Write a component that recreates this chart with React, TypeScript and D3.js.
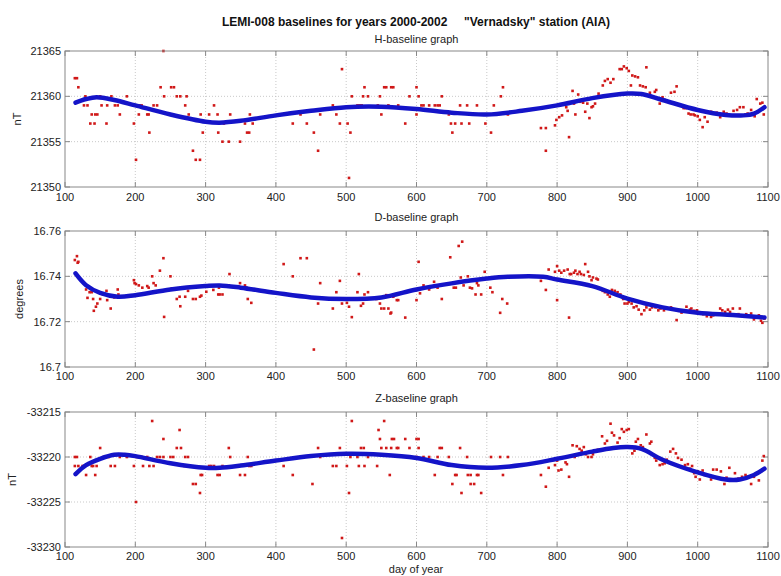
import React from "react";
import * as d3 from "d3";

// ---------- DATA ----------
const xTicks = [100, 200, 300, 400, 500, 600, 700, 800, 900, 1000, 1100];

const hTicks = [21350, 21355, 21360, 21365];
const dTicks = [16.7, 16.72, 16.74, 16.76];
const zTicks = [-33230, -33225, -33220, -33215];

const hPoints: [number, number][] = [
  [114,21362],[117,21362],[119,21361],[129,21360],[127,21359],[132,21359],[138,21358],[143,21358],[146,21358],[136,21357],[142,21357],
  [150,21360],[152,21359],[159,21357],[160,21359],[166,21360],[171,21359],[175,21359],[178,21358],[188,21360],[198,21357],[201,21353],
  [202,21359],[205,21358],[206,21359],[209,21359],[217,21358],[219,21358],[220,21356],[226,21359],[231,21359],[236,21361],[240,21365],
  [241,21360],[251,21361],[255,21361],[259,21360],[264,21360],[273,21360],[271,21359],[276,21358],[282,21354],[286,21353],[292,21353],
  [293,21358],[296,21356],[305,21358],[312,21359],[317,21358],[318,21356],[324,21355],[326,21357],[333,21355],[335,21358],[349,21355],
  [356,21357],[359,21356],[362,21356],[363,21358],[367,21357],[424,21357],[435,21358],[444,21357],[454,21356],[460,21354],[463,21358],
  [481,21359],[486,21358],[491,21357],[494,21363],[502,21357],[504,21351],[506,21356],[508,21360],[516,21359],[519,21359],[522,21359],
  [524,21360],[526,21361],[531,21360],[545,21359],[548,21360],[550,21358],[554,21361],[557,21361],[560,21359],[564,21361],[567,21361],
  [574,21359],[584,21357],[590,21360],[600,21361],[600,21358],[603,21360],[607,21359],[610,21359],[618,21359],[626,21359],[630,21359],
  [633,21359],[636,21360],[646,21358],[649,21357],[651,21356],[655,21357],[662,21359],[664,21357],[672,21359],[675,21357],[677,21358],
  [682,21358],[686,21359],[689,21358],[693,21358],[698,21357],[706,21356],[710,21359],[720,21360],[723,21361],[730,21358],
  [777,21356.5],[784,21356.5],[784,21354],[797,21356.8],[799,21357.4],[803,21357.7],[807,21357.9],[813,21358.8],[815,21358.4],
  [817,21355.5],[822,21360.6],[824,21359.2],[826,21358.0],[830,21360.2],[833,21359.4],[837,21359.3],[840,21358.3],[843,21359.2],
  [846,21357.6],[849,21358.8],[851,21358.9],[854,21359.2],[859,21360.3],[865,21361.2],[868,21361.7],[872,21361.9],[876,21361.5],
  [880,21361.9],[889,21363.0],[892,21363.0],[895,21363.3],[899,21363.1],[902,21362.8],[905,21361.2],[907,21362.3],[911,21362.2],
  [915,21362.1],[918,21361.2],[922,21361.1],[926,21361.0],[927,21363.2],[932,21360.4],[934,21360.0],[939,21360.5],[941,21360.7],
  [946,21359.2],[950,21359.9],[953,21359.6],[956,21359.4],[962,21360.4],[967,21360.5],[970,21361.1],[980,21358.7],[983,21358.7],
  [987,21358.1],[990,21358.0],[994,21358.0],[996,21357.9],[1000,21357.8],[1003,21357.4],[1007,21356.6],[1010,21357.7],[1014,21357.2],
  [1019,21358.3],[1022,21358.2],[1027,21358.2],[1032,21357.7],[1037,21358.3],[1041,21358.1],[1046,21357.9],[1051,21358.4],
  [1056,21358.5],[1060,21358.8],[1065,21358.8],[1068,21358.0],[1071,21358.1],[1076,21358.5],[1081,21357.8],[1084,21359.7],
  [1089,21359.2],[1092,21359.3],[1094,21358.0],[1095,21358.8],
];

const hFit: [number, number][] = [
  [115,21359.3],[130,21359.7],[145,21359.9],[170,21359.6],[200,21359.0],[250,21358.0],[300,21357.2],[320,21357.1],[350,21357.3],
  [400,21357.9],[450,21358.4],[500,21358.8],[550,21358.85],[600,21358.6],[650,21358.2],[700,21358.0],[750,21358.4],[800,21359.0],
  [850,21359.8],[900,21360.3],[920,21360.25],[950,21359.6],[1000,21358.5],[1040,21357.95],[1065,21357.9],[1080,21358.1],[1095,21358.8],
];

const dPoints: [number, number][] = [
  [114,16.7472],[117,16.7489],[118,16.746],[119,16.7464],[130,16.7342],[132,16.7305],[135,16.733],[138,16.733],[140,16.730],
  [141,16.7248],[144,16.7266],[146,16.728],[150,16.730],[154,16.732],[157,16.732],[159,16.7336],[160,16.7295],[165,16.7258],
  [170,16.7307],[175,16.7342],[176,16.732],[179,16.731],[190,16.731],[198,16.7383],[199,16.737],[201,16.7366],[205,16.736],
  [210,16.735],[217,16.7357],[219,16.735],[224,16.740],[226,16.737],[229,16.736],[235,16.7425],[240,16.748],[241,16.7221],
  [250,16.740],[252,16.7347],[259,16.730],[263,16.731],[264,16.7268],[271,16.731],[275,16.7336],[282,16.730],[286,16.730],
  [292,16.731],[294,16.7315],[301,16.7332],[311,16.734],[318,16.732],[319,16.735],[320,16.732],[324,16.732],[333,16.736],
  [334,16.741],[349,16.737],[356,16.736],[358,16.735],[360,16.730],[365,16.7283],[411,16.7454],[424,16.740],[435,16.748],
  [444,16.748],[454,16.7077],[460,16.728],[463,16.737],[481,16.7258],[486,16.733],[491,16.738],[494,16.728],[501,16.7283],
  [504,16.7266],[508,16.722],[516,16.733],[518,16.741],[521,16.727],[524,16.728],[526,16.732],[531,16.733],[543,16.730],
  [548,16.728],[550,16.7258],[554,16.7258],[557,16.7317],[560,16.7258],[563,16.7236],[564,16.724],[567,16.731],[572,16.7295],
  [574,16.7295],[584,16.7218],[600,16.734],[600,16.7295],[603,16.7464],[605,16.7325],[610,16.736],[618,16.7342],[625,16.7376],
  [630,16.735],[635,16.736],[636,16.730],[646,16.7368],[648,16.7484],[653,16.735],[656,16.735],[660,16.7534],[663,16.7395],
  [665,16.7553],[667,16.736],[673,16.740],[676,16.735],[679,16.7347],[684,16.732],[686,16.737],[688,16.736],[692,16.732],
  [697,16.742],[705,16.735],[708,16.733],[719,16.7239],[722,16.730],[729,16.728],[777,16.738],[784,16.734],[788,16.743],
  [797,16.742],[800,16.7445],[800,16.7295],[803,16.7425],[806,16.7416],[810,16.7425],[815,16.743],[817,16.7218],[818,16.741],
  [820,16.741],[824,16.7416],[826,16.7425],[829,16.741],[832,16.742],[834,16.741],[838,16.7406],[840,16.7454],[844,16.742],
  [846,16.740],[849,16.7383],[851,16.7395],[856,16.739],[858,16.7386],[865,16.7336],[868,16.733],[872,16.732],[875,16.731],
  [878,16.734],[882,16.7336],[886,16.733],[890,16.732],[894,16.730],[896,16.728],[900,16.728],[902,16.7287],[906,16.728],
  [909,16.7263],[913,16.7268],[916,16.7253],[920,16.7233],[924,16.725],[927,16.7263],[932,16.7253],[935,16.7263],[940,16.7263],
  [944,16.725],[947,16.7258],[952,16.725],[957,16.7258],[962,16.7263],[967,16.7253],[970,16.7207],[973,16.7248],[977,16.724],
  [984,16.7266],[989,16.7253],[991,16.7258],[995,16.7248],[999,16.725],[1001,16.724],[1005,16.7236],[1008,16.7233],[1013,16.7224],
  [1015,16.7233],[1019,16.7221],[1022,16.7228],[1027,16.7233],[1032,16.7258],[1035,16.725],[1039,16.7243],[1043,16.7253],
  [1046,16.7243],[1050,16.7258],[1053,16.7228],[1058,16.7233],[1060,16.7258],[1065,16.7224],[1069,16.7233],[1071,16.7228],
  [1076,16.7236],[1080,16.721],[1083,16.7218],[1087,16.7228],[1090,16.7204],[1092,16.7195],[1095,16.7214],
];

const dFit: [number, number][] = [
  [115,16.7413],[130,16.7361],[150,16.7327],[175,16.731],[200,16.7317],[250,16.7342],[300,16.7357],[320,16.736],[350,16.735],
  [400,16.7327],[450,16.7307],[500,16.730],[550,16.7307],[600,16.7342],[650,16.7369],[700,16.739],[730,16.7398],[780,16.7398],
  [800,16.7386],[850,16.7357],[900,16.7302],[950,16.7263],[1000,16.7239],[1050,16.7229],[1095,16.7218],
];

const zPoints: [number, number][] = [
  [114,-33220],[117,-33220],[114,-33221],[119,-33221],[125,-33221],[130,-33222],[136,-33220],[138,-33221],[140,-33221],[145,-33221],
  [143,-33222],[150,-33219],[155,-33220],[158,-33220],[162,-33220],[165,-33221],[171,-33221],[178,-33220],[188,-33220],[198,-33221],
  [201,-33225],[202,-33220],[206,-33220],[209,-33220],[211,-33221],[217,-33220],[220,-33221],[224,-33216],[226,-33221],[231,-33220],
  [235,-33220],[240,-33220],[240,-33218],[250,-33220],[254,-33220],[259,-33219],[263,-33217],[265,-33219],[270,-33221],[271,-33220],
  [275,-33220],[282,-33223],[286,-33223],[292,-33224],[293,-33222],[295,-33222],[305,-33221],[308,-33221],[312,-33221],[317,-33222],
  [320,-33222],[324,-33221],[333,-33219],[335,-33220],[349,-33222],[356,-33222],[360,-33220],[362,-33221],[365,-33221],[411,-33221],
  [424,-33222],[452,-33223],[460,-33219],[463,-33220],[481,-33221],[486,-33221],[491,-33219],[494,-33229],[501,-33221],[504,-33224],
  [506,-33220],[508,-33216],[516,-33220],[518,-33221],[521,-33219],[525,-33219],[526,-33221],[531,-33220],[544,-33221],[546,-33217],
  [548,-33218],[550,-33219],[554,-33216],[557,-33219],[562,-33222],[564,-33219],[565,-33218],[568,-33218],[572,-33219],[574,-33219],
  [584,-33218],[590,-33219],[600,-33218],[603,-33218],[600,-33220],[603,-33219],[610,-33220],[618,-33220],[626,-33222],[630,-33220],
  [633,-33219],[636,-33219],[646,-33220],[651,-33223],[655,-33222],[657,-33222],[662,-33219],[664,-33224],[665,-33221],[672,-33220],
  [673,-33222],[677,-33223],[682,-33223],[677,-33222],[686,-33222],[688,-33222],[692,-33224],[706,-33220],[719,-33220],[723,-33222],
  [730,-33220],[777,-33222],[784,-33223.3],[788,-33221.2],[797,-33220.9],[800,-33220.4],[802,-33221.5],[806,-33221.4],[812,-33220.6],
  [814,-33220.8],[817,-33222.2],[822,-33218.7],[825,-33220],[828,-33218.8],[832,-33219.1],[835,-33219.3],[838,-33218.9],[841,-33219.7],
  [844,-33220],[849,-33220],[851,-33219.7],[854,-33219.3],[858,-33219.2],[864,-33217.7],[868,-33218.5],[871,-33218.2],[876,-33216.3],
  [878,-33217.3],[881,-33217.6],[886,-33218.4],[889,-33217.9],[892,-33216.9],[895,-33217.2],[899,-33217],[902,-33216.9],[907,-33219.6],
  [910,-33219.3],[912,-33218.3],[915,-33218],[919,-33218.7],[922,-33218.9],[927,-33217.5],[932,-33218.5],[934,-33218.3],[939,-33220.1],
  [941,-33220.4],[946,-33220.9],[950,-33220.8],[953,-33220.7],[956,-33220.3],[961,-33219.4],[965,-33219.1],[969,-33219.6],[972,-33220.1],
  [977,-33220.3],[982,-33220.9],[986,-33220.8],[989,-33221.3],[992,-33221],[995,-33221.8],[997,-33222.2],[1000,-33221.6],[1003,-33222.5],
  [1007,-33221.5],[1010,-33222],[1019,-33222.5],[1022,-33221.4],[1027,-33221.4],[1033,-33221.6],[1038,-33223],[1041,-33222.3],
  [1045,-33221.2],[1048,-33222.5],[1053,-33221.8],[1058,-33222.4],[1063,-33222.2],[1068,-33222],[1071,-33222.2],[1076,-33223],
  [1080,-33222.2],[1087,-33222.6],[1092,-33220.4],[1094,-33219.9],[1095,-33221.3],
];

const zFit: [number, number][] = [
  [115,-33221.9],[130,-33220.9],[150,-33220.2],[170,-33219.75],[185,-33219.75],[200,-33219.9],[250,-33220.7],[300,-33221.2],
  [320,-33221.2],[350,-33220.95],[400,-33220.4],[450,-33219.9],[500,-33219.65],[550,-33219.75],[600,-33220.1],[650,-33220.9],
  [700,-33221.2],[750,-33220.9],[800,-33220.2],[850,-33219.4],[880,-33219.0],[900,-33218.9],[920,-33219.1],[950,-33220.3],
  [1000,-33221.7],[1040,-33222.5],[1060,-33222.5],[1080,-33222.0],[1095,-33221.3],
];

// ---------- LAYOUT ----------
const W = 781;
const H = 576;
const left = 65;
const right = 768;
const FONT = "'Liberation Sans', Arial, Helvetica, sans-serif";

type PanelDef = {
  title: string;
  ylabel: string;
  top: number;
  bottom: number;
  domain: [number, number];
  ticks: number[];
  fmt: (v: number) => string;
  points: [number, number][];
  fit: [number, number][];
  titleY: number;
  xlabY: number;
  ylabX: number;
};

const panels: PanelDef[] = [
  {
    title: "H-baseline graph", ylabel: "nT", top: 51, bottom: 187,
    domain: [21350, 21365], ticks: hTicks, fmt: (v) => String(v),
    points: hPoints, fit: hFit, titleY: 43, xlabY: 201, ylabX: 21,
  },
  {
    title: "D-baseline graph", ylabel: "degrees", top: 231, bottom: 367,
    domain: [16.7, 16.76], ticks: dTicks, fmt: (v) => String(+v.toFixed(2)),
    points: dPoints, fit: dFit, titleY: 221, xlabY: 380, ylabX: 23,
  },
  {
    title: "Z-baseline graph", ylabel: "nT", top: 412, bottom: 547,
    domain: [-33230, -33215], ticks: zTicks, fmt: (v) => String(v),
    points: zPoints, fit: zFit, titleY: 402, xlabY: 560, ylabX: 16,
  },
];

const x = d3.scaleLinear().domain([100, 1100]).range([left, right]);

function Panel({ p }: { p: PanelDef }) {
  const y = d3.scaleLinear().domain(p.domain).range([p.bottom, p.top]);
  const line = d3
    .line<[number, number]>()
    .x((d) => x(d[0]))
    .y((d) => y(d[1]))
    .curve(d3.curveCatmullRom.alpha(0.5));
  const cy = (p.top + p.bottom) / 2;
  return (
    <g>
      <text x={(left + right) / 2} y={p.titleY} textAnchor="middle" fontSize={11} fill="#222" fontFamily={FONT}>
        {p.title}
      </text>
      <rect x={left} y={p.top} width={right - left} height={p.bottom - p.top} fill="#fff" />
      {xTicks.slice(1, -1).map((t) => (
        <line key={"gx" + t} x1={x(t)} x2={x(t)} y1={p.top} y2={p.bottom} stroke="#bbb" strokeWidth={0.8} strokeDasharray="1,2" />
      ))}
      {p.ticks.slice(1, -1).map((t) => (
        <line key={"gy" + t} x1={left} x2={right} y1={y(t)} y2={y(t)} stroke="#bbb" strokeWidth={0.8} strokeDasharray="1,2" />
      ))}
      {xTicks.map((t) => (
        <g key={"tx" + t}>
          <line x1={x(t)} x2={x(t)} y1={p.bottom} y2={p.bottom - 5} stroke="#888" />
          <line x1={x(t)} x2={x(t)} y1={p.top} y2={p.top + 5} stroke="#888" />
          <text x={x(t)} y={p.xlabY} textAnchor="middle" fontSize={11} fill="#222" fontFamily={FONT}>
            {t}
          </text>
        </g>
      ))}
      {p.ticks.map((t) => (
        <g key={"ty" + t}>
          <line x1={left} x2={left + 5} y1={y(t)} y2={y(t)} stroke="#888" />
          <line x1={right} x2={right - 5} y1={y(t)} y2={y(t)} stroke="#888" />
          <text x={left - 4} y={y(t) + 4} textAnchor="end" fontSize={11} fill="#222" fontFamily={FONT}>
            {p.fmt(t)}
          </text>
        </g>
      ))}
      {p.points.map((d, i) => (
        <rect key={"pt" + i} x={x(d[0]) - 1.3} y={y(d[1]) - 1.3} width={2.6} height={2.6} fill="#d01818" />
      ))}
      <path d={line(p.fit) || ""} fill="none" stroke="#1414c8" strokeWidth={4.5} strokeLinecap="round" />
      <rect x={left} y={p.top} width={right - left} height={p.bottom - p.top} fill="none" stroke="#888" strokeWidth={1} />
      <text
        transform={`translate(${p.ylabX},${cy}) rotate(-90)`}
        textAnchor="middle"
        fontSize={11}
        fill="#222"
        fontFamily={FONT}
      >
        {p.ylabel}
      </text>
    </g>
  );
}

export default function App() {
  return (
    <svg width={W} height={H} style={{ position: "absolute", left: 0, top: 0, background: "#fff" }}>
      <rect width={W} height={H} fill="#fff" />
      <text x={416} y={26} textAnchor="middle" fontSize={12} fontWeight="bold" fill="#111" fontFamily={FONT} xmlSpace="preserve">
        {'LEMI-008 baselines for years 2000-2002     "Vernadsky" station (AIA)'}
      </text>
      {panels.map((p) => (
        <Panel key={p.title} p={p} />
      ))}
      <text x={416} y={573} textAnchor="middle" fontSize={11} fill="#222" fontFamily={FONT}>
        day of year
      </text>
    </svg>
  );
}
